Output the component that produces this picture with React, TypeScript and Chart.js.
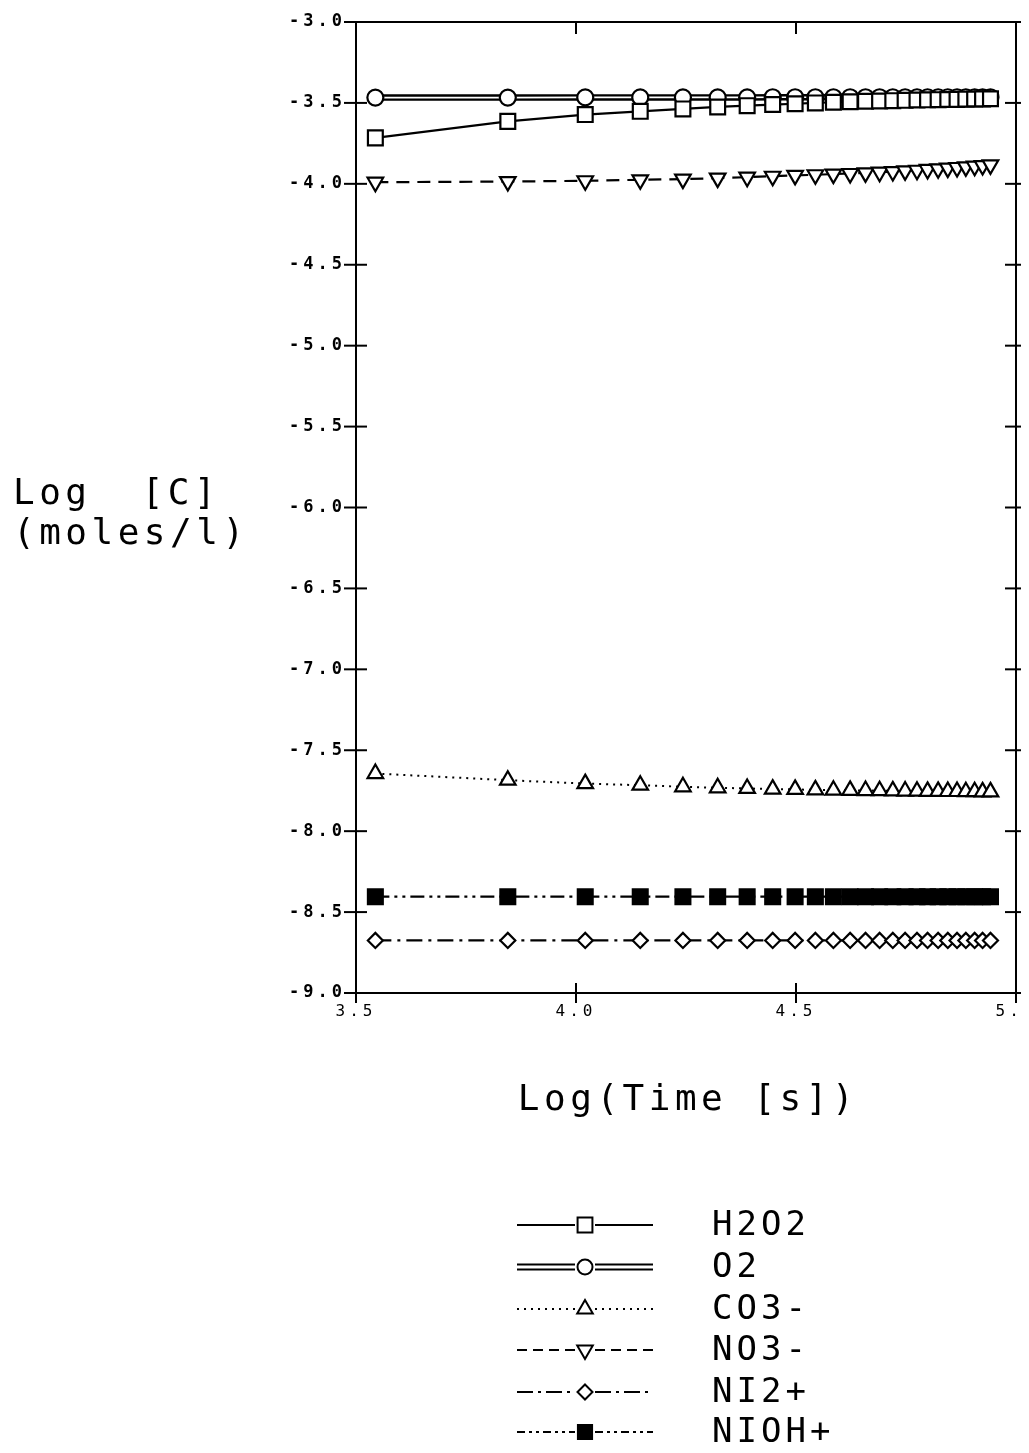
import React, { useEffect, useRef } from "react";
import { Chart, registerables } from "chart.js";

Chart.register(...registerables);

// ---- data ----
const logTime = [
  3.544, 3.845, 4.021, 4.146, 4.243, 4.322, 4.389, 4.447, 4.498, 4.544,
  4.585, 4.623, 4.658, 4.69, 4.72, 4.748, 4.775, 4.799, 4.823, 4.845,
  4.866, 4.886, 4.906, 4.924, 4.942,
];
const h2o2 = [
  -3.716, -3.614, -3.572, -3.552, -3.537, -3.525, -3.517, -3.51, -3.505, -3.5,
  -3.496, -3.493, -3.49, -3.488, -3.486, -3.484, -3.482, -3.481, -3.48, -3.479,
  -3.478, -3.477, -3.476, -3.475, -3.474,
];
const o2 = [
  -3.467, -3.467, -3.466, -3.466, -3.466, -3.466, -3.466, -3.465, -3.465, -3.465,
  -3.465, -3.465, -3.465, -3.465, -3.465, -3.465, -3.465, -3.465, -3.465, -3.465,
  -3.465, -3.465, -3.465, -3.465, -3.465,
];
const co3 = [
  -7.644, -7.685, -7.706, -7.716, -7.726, -7.732, -7.736, -7.74, -7.742, -7.745,
  -7.747, -7.748, -7.749, -7.75, -7.751, -7.752, -7.753, -7.754, -7.754, -7.755,
  -7.755, -7.756, -7.756, -7.757, -7.757,
];
const no3 = [
  -3.99, -3.986, -3.981, -3.975, -3.971, -3.965, -3.959, -3.953, -3.948, -3.944,
  -3.94, -3.936, -3.932, -3.928, -3.924, -3.92, -3.916, -3.911, -3.907, -3.903,
  -3.899, -3.895, -3.891, -3.887, -3.883,
];
const ni2 = [
  -8.675, -8.675, -8.675, -8.675, -8.675, -8.675, -8.675, -8.675, -8.675, -8.675,
  -8.675, -8.675, -8.675, -8.675, -8.675, -8.675, -8.675, -8.675, -8.675, -8.675,
  -8.675, -8.675, -8.675, -8.675, -8.675,
];
const nioh = [
  -8.405, -8.405, -8.405, -8.405, -8.405, -8.405, -8.405, -8.405, -8.405, -8.405,
  -8.405, -8.405, -8.405, -8.405, -8.405, -8.405, -8.405, -8.405, -8.405, -8.405,
  -8.405, -8.405, -8.405, -8.405, -8.405,
];
const legendLabels = ["H2O2", "O2", "CO3-", "NO3-", "NI2+", "NIOH+"];
const yTitleLines = ["Log [C]", "(moles/l)"];
const xTitle = "Log(Time [s])";
const xMin = 3.5, xMax = 5.0, yMin = -9.0, yMax = -3.0, tickStep = 0.5;

// ---- styles ----
const FONT = "'DejaVu Sans Mono', 'Liberation Mono', monospace";

type Mk = { style: string; r: number; rot: number; filled: boolean };
const legendStyles: { dash: number[]; double?: boolean; lw: number; mk: Mk }[] = [
  { dash: [], lw: 2, mk: { style: "rect", r: 10.5, rot: 0, filled: false } },
  { dash: [], lw: 2, double: true, mk: { style: "circle", r: 7.5, rot: 0, filled: false } },
  { dash: [2, 5], lw: 2, mk: { style: "triangle", r: 9, rot: 0, filled: false } },
  { dash: [10, 6], lw: 2, mk: { style: "triangle", r: 9, rot: 180, filled: false } },
  { dash: [16, 5, 3, 5], lw: 2, mk: { style: "rectRot", r: 7.5, rot: 0, filled: false } },
  { dash: [8, 4, 3, 4, 3, 4], lw: 2, mk: { style: "rect", r: 10, rot: 0, filled: true } },
];

function drawMarker(ctx: CanvasRenderingContext2D, m: Mk, x: number, y: number) {
  ctx.save();
  ctx.translate(x, y);
  ctx.rotate((m.rot * Math.PI) / 180);
  ctx.beginPath();
  const r = m.r;
  if (m.style === "circle") ctx.arc(0, 0, r, 0, Math.PI * 2);
  else if (m.style === "rect") {
    const h = r * Math.SQRT1_2;
    ctx.rect(-h, -h, 2 * h, 2 * h);
  } else if (m.style === "rectRot") {
    ctx.moveTo(0, -r);
    ctx.lineTo(r, 0);
    ctx.lineTo(0, r);
    ctx.lineTo(-r, 0);
    ctx.closePath();
  } else {
    for (let i = 0; i < 3; i++) {
      const a = (i * 2 * Math.PI) / 3;
      const px = Math.sin(a) * r, py = -Math.cos(a) * r;
      if (i === 0) ctx.moveTo(px, py);
      else ctx.lineTo(px, py);
    }
    ctx.closePath();
  }
  ctx.fillStyle = m.filled ? "#000" : "#fff";
  ctx.fill();
  ctx.setLineDash([]);
  ctx.lineWidth = 2;
  ctx.strokeStyle = "#000";
  ctx.stroke();
  ctx.restore();
}

const framePlugin = {
  id: "frame",
  beforeDraw(chart: any) {
    (chart.ctx as any).letterSpacing = "4px";
  },
  afterDraw(chart: any) {
    const ctx: CanvasRenderingContext2D = chart.ctx;
    const a = chart.chartArea;
    const xs = chart.scales.x, ys = chart.scales.y;
    ctx.save();
    (ctx as any).letterSpacing = "0px";
    ctx.strokeStyle = "#000";
    ctx.lineWidth = 2;
    ctx.setLineDash([]);
    ctx.strokeRect(a.left, a.top, a.right - a.left, a.bottom - a.top);
    const seg = (x1: number, y1: number, x2: number, y2: number) => {
      ctx.beginPath();
      ctx.moveTo(x1, y1);
      ctx.lineTo(x2, y2);
      ctx.stroke();
    };
    for (const t of ys.ticks) {
      const py = ys.getPixelForValue(t.value);
      seg(a.left - 12, py, a.left + 11, py);
      seg(a.right - 11, py, a.right + 13, py);
    }
    for (const t of xs.ticks) {
      const px = xs.getPixelForValue(t.value);
      seg(px, a.bottom - 10, px, a.bottom + 10);
      seg(px, a.top, px, a.top + 12);
    }

    // axis titles
    ctx.fillStyle = "#000";
    ctx.font = `36px ${FONT}`;
    (ctx as any).letterSpacing = "4.5px";
    ctx.textAlign = "left";
    ctx.textBaseline = "alphabetic";
    (ctx as any).wordSpacing = "24px";
    ctx.fillText(yTitleLines[0], 5, 496);
    (ctx as any).wordSpacing = "0px";
    ctx.fillText(yTitleLines[1], 5, 536);
    ctx.textAlign = "center";
    ctx.fillText(xTitle, (a.left + a.right) / 2 + 2, 1102);

    // legend
    const rows = [1217, 1259, 1301, 1342, 1384, 1424];
    const lx1 = 509, lx2 = 645, mx = 577, tx = 704;
    legendLabels.forEach((lab, i) => {
      const st = legendStyles[i];
      const y = rows[i];
      ctx.setLineDash(st.dash);
      ctx.lineWidth = st.lw;
      if (st.double) {
        seg(lx1, y - 2.5, mx - 10, y - 2.5);
        seg(lx1, y + 2.5, mx - 10, y + 2.5);
        seg(mx + 10, y - 2.5, lx2, y - 2.5);
        seg(mx + 10, y + 2.5, lx2, y + 2.5);
      } else {
        seg(lx1, y, mx - 10, y);
        seg(mx + 10, y, lx2, y);
      }
      drawMarker(ctx, st.mk, mx, y);
      ctx.font = `34px ${FONT}`;
      (ctx as any).letterSpacing = "4px";
      ctx.textAlign = "left";
      ctx.textBaseline = "middle";
      ctx.fillText(lab, tx, y + 1);
    });
    ctx.restore();
    (ctx as any).letterSpacing = "0px";
  },
};

export default function App() {
  const ref = useRef<HTMLCanvasElement>(null);
  useEffect(() => {
    const canvas = ref.current!;
    const pts = (ys: number[]) => logTime.map((x, i) => ({ x, y: ys[i] }));
    const base = {
      borderColor: "#000",
      pointBorderColor: "#000",
      pointBackgroundColor: "#fff",
      pointBorderWidth: 2.2,
      tension: 0,
      fill: false,
    };
    const chart = new Chart(canvas, {
      type: "line",
      data: {
        datasets: [
          { ...base, label: "H2O2", data: pts(h2o2), borderWidth: 2.2, pointStyle: "rect", pointRadius: 10.5, order: 1 },
          { ...base, label: "O2 outer", data: pts(o2), borderWidth: 6.5, pointRadius: 0, order: 6 },
          { ...base, label: "O2 inner", data: pts(o2), borderColor: "#fff", borderWidth: 1.6, pointRadius: 0, order: 5 },
          { ...base, label: "O2", data: pts(o2), showLine: false, pointStyle: "circle", pointRadius: 8, order: 4 },
          { ...base, label: "CO3-", data: pts(co3), borderWidth: 2, borderDash: [2, 5], pointStyle: "triangle", pointRadius: 9, order: 2 },
          { ...base, label: "NO3-", data: pts(no3), borderWidth: 2.2, borderDash: [13, 8], pointStyle: "triangle", pointRotation: 180, pointRadius: 9, order: 2 },
          { ...base, label: "NI2+", data: pts(ni2), borderWidth: 2.2, borderDash: [16, 6, 3, 6], pointStyle: "rectRot", pointRadius: 7.5, order: 2 },
          { ...base, label: "NIOH+", data: pts(nioh), borderWidth: 2.2, borderDash: [14, 5, 3, 5, 3, 5], pointStyle: "rect", pointRadius: 10.5, pointBackgroundColor: "#000", order: 2 },
        ],
      },
      options: {
        responsive: false,
        animation: false,
        events: [],
        layout: { padding: { top: 14, right: 13, left: 0, bottom: 0 } },
        plugins: { legend: { display: false }, tooltip: { enabled: false }, title: { display: false } },
        scales: {
          x: {
            type: "linear",
            min: xMin,
            max: xMax,
            grid: { display: false, drawTicks: false },
            border: { display: false },
            ticks: {
              stepSize: tickStep,
              padding: 9,
              color: "#000",
              font: { family: FONT, size: 16 },
              callback: (v: any) => Number(v).toFixed(1),
              maxRotation: 0,
            },
            afterFit: (s: any) => {
              s.height = 451;
              s.paddingLeft = 0;
              s.paddingRight = 0;
            },
          },
          y: {
            type: "linear",
            min: yMin,
            max: yMax,
            grid: { display: false, drawTicks: false },
            border: { display: false },
            ticks: {
              stepSize: tickStep,
              padding: 10,
              color: "#000",
              font: { family: FONT, size: 17, weight: "bold" },
              callback: (v: any) => Number(v).toFixed(1),
            },
            afterFit: (s: any) => {
              s.width = 348;
              s.paddingTop = 0;
              s.paddingBottom = 0;
            },
          },
        },
      } as any,
      plugins: [framePlugin],
    });
    return () => chart.destroy();
  }, []);
  return <canvas ref={ref} width={1021} height={1436} style={{ display: "block" }} />;
}
